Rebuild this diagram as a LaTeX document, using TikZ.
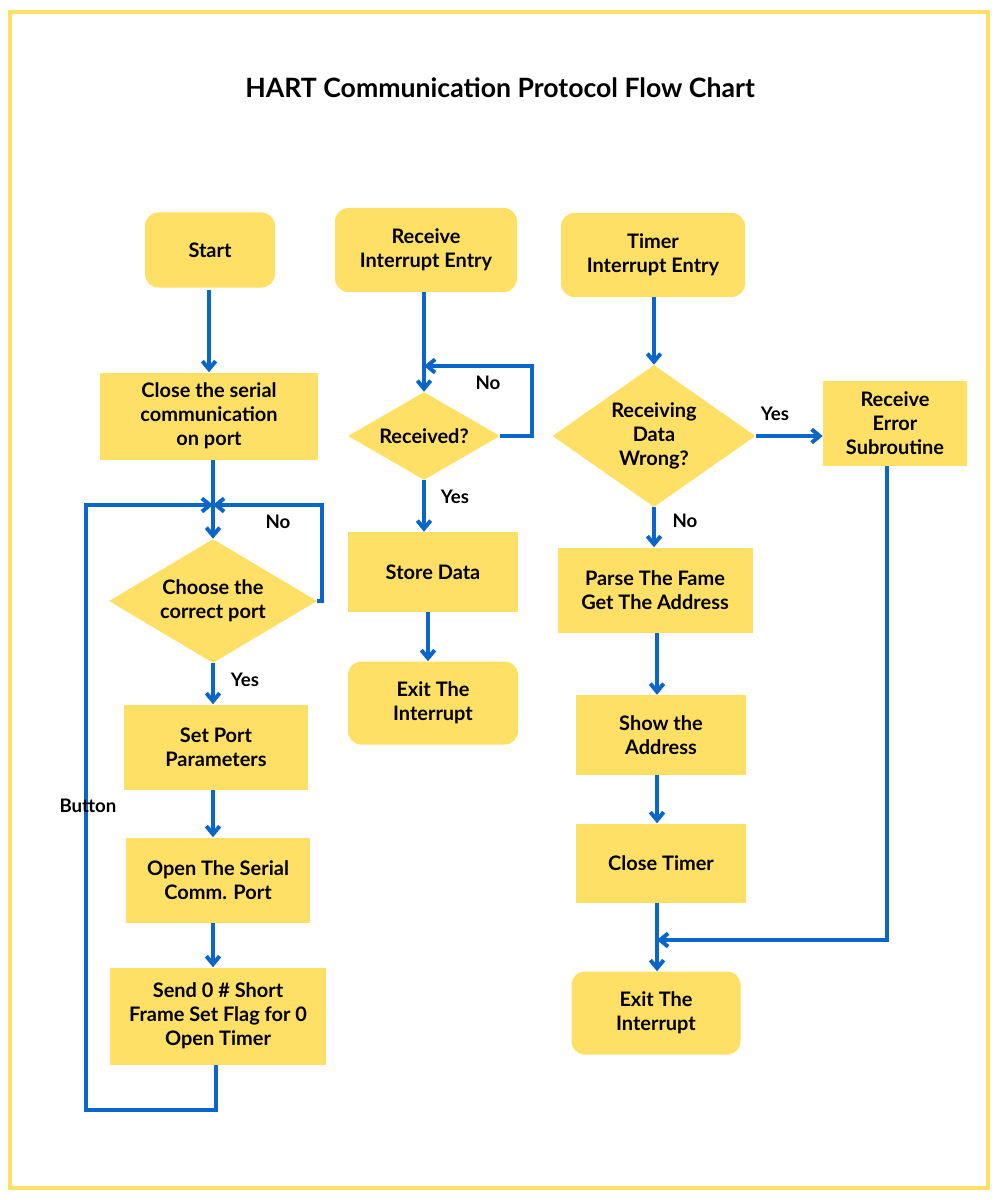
\documentclass[tikz,border=0pt]{standalone}
\usepackage{fontspec}
\setmainfont{Lato}
\usetikzlibrary{shapes.geometric,arrows.meta}
\definecolor{yel}{HTML}{FFE066}
\definecolor{blu}{HTML}{0B66C9}
\begin{document}
\begin{tikzpicture}[x=0.0264cm,y=-0.0264cm,
  box/.style={fill=yel,draw=none,align=center,font=\fontsize{15}{18}\selectfont\bfseries,inner sep=0pt},
  rbox/.style={box,rounded corners=10pt},
  dia/.style={box,diamond,aspect=1.6},
  arr/.style={draw=blu,line width=3pt,-{Straight Barb[length=6pt,width=10pt]}},
  ln/.style={draw=blu,line width=3pt},
  lab/.style={font=\fontsize{14}{16}\selectfont\bfseries}]
\useasboundingbox (0,0) rectangle (1000,1200);
\draw[yel,line width=2.5pt] (10,12) rectangle (988,1188);
\node[font=\fontsize{20}{24}\selectfont\bfseries] (title) at (500,88) {HART Communication Protocol Flow Chart};
% left column
\node[rbox,minimum width=130*0.0264cm,minimum height=75*0.0264cm] (start) at (210,250) {Start};
\node[box,minimum width=218*0.0264cm,minimum height=87*0.0264cm] (close) at (209,416) {Close the serial\\communication\\on port};
\node[dia,minimum width=208*0.0264cm,minimum height=124*0.0264cm] (choose) at (213,601) {Choose the\\correct port};
\node[box,minimum width=184*0.0264cm,minimum height=85*0.0264cm] (set) at (216,747) {Set Port\\Parameters};
\node[box,minimum width=184*0.0264cm,minimum height=85*0.0264cm] (open) at (218,880) {Open The Serial\\Comm. Port};
\node[box,minimum width=216*0.0264cm,minimum height=97*0.0264cm] (send) at (218,1016) {Send 0 \# Short\\Frame Set Flag for 0\\Open Timer};
% middle column
\node[rbox,minimum width=182*0.0264cm,minimum height=84*0.0264cm] (rie) at (426,250) {Receive\\Interrupt Entry};
\node[dia,minimum width=152*0.0264cm,minimum height=88*0.0264cm] (recd) at (424,436) {Received?};
\node[box,minimum width=170*0.0264cm,minimum height=80*0.0264cm] (store) at (433,572) {Store Data};
\node[rbox,minimum width=170*0.0264cm,minimum height=83*0.0264cm] (exit1) at (433,703) {Exit The\\Interrupt};
% right column
\node[rbox,minimum width=184*0.0264cm,minimum height=84*0.0264cm] (tie) at (653,255) {Timer\\Interrupt Entry};
\node[dia,minimum width=203*0.0264cm,minimum height=142*0.0264cm] (wrong) at (654,436) {Receiving\\Data\\Wrong?};
\node[box,minimum width=144*0.0264cm,minimum height=85*0.0264cm] (err) at (895,423) {Receive\\Error\\Subroutine};
\node[box,minimum width=195*0.0264cm,minimum height=85*0.0264cm] (parse) at (655,590) {Parse The Fame\\Get The Address};
\node[box,minimum width=170*0.0264cm,minimum height=80*0.0264cm] (show) at (661,735) {Show the\\Address};
\node[box,minimum width=170*0.0264cm,minimum height=79*0.0264cm] (ctimer) at (661,863) {Close Timer};
\node[rbox,minimum width=169*0.0264cm,minimum height=83*0.0264cm] (exit2) at (656,1013) {Exit The\\Interrupt};
% coordinates
\coordinate (j1) at (213,505);
\coordinate (j2) at (424,366);
\coordinate (j3) at (657,940);
% left arrows
\draw[arr] (209,290) -- (close.north -| 209,0);
\draw[arr] (close.south -| 213,0) -- (choose.north);
\draw[ln] (choose.east) -- (322,601) -- (322,505) -- (j1);
\draw[arr] (322,505) -- (j1);
\draw[ln] (send.south -| 216,0) -- (216,1110) -- (86,1110) -- (86,505) -- (j1);
\draw[arr] (86,505) -- (j1);
\draw[arr] (choose.south) -- (set.north -| 213,0);
\draw[arr] (set.south -| 213,0) -- (open.north -| 213,0);
\draw[arr] (open.south -| 213,0) -- (send.north -| 213,0);
\node[lab] (no1) at (278,522) {No};
\node[lab] (yes1) at (245,680) {Yes};
\node[lab] (btn) at (88,806) {Button};
% middle arrows
\draw[arr] (rie.south -| 424,0) -- (recd.north);
\draw[ln] (recd.east) -- (532,436) -- (532,366) -- (j2);
\draw[arr] (532,366) -- (j2);
\draw[arr] (recd.south) -- (store.north -| 424,0);
\draw[arr] (store.south -| 428,0) -- (exit1.north -| 428,0);
\node[lab] (no2) at (488,383) {No};
\node[lab] (yes2) at (455,497) {Yes};
% right arrows
\draw[arr] (tie.south -| 654,0) -- (wrong.north);
\draw[arr] (wrong.east) -- (err.west |- wrong.east);
\draw[arr] (wrong.south) -- (parse.north -| 654,0);
\draw[arr] (parse.south -| 657,0) -- (show.north -| 657,0);
\draw[arr] (show.south -| 657,0) -- (ctimer.north -| 657,0);
\draw[arr] (ctimer.south -| 657,0) -- (exit2.north -| 657,0);
\draw[ln] (err.south -| 887,0) -- (887,940) -- (j3);
\draw[arr] (887,940) -- (j3);
\node[lab] (yes3) at (775,414) {Yes};
\node[lab] (no3) at (685,521) {No};
\end{tikzpicture}
\end{document}
